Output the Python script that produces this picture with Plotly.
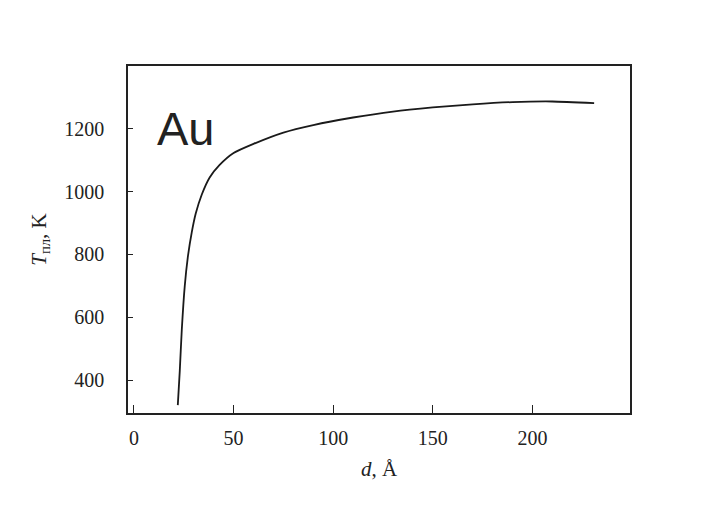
import plotly.graph_objects as go

# particle size d (Å) and melting temperature T_пл (K) for Au
d_vals = [22, 23, 24, 25.5, 27, 29, 31, 34, 38, 43, 50, 60, 75, 90, 110, 130, 150, 170, 190, 210, 231]
t_vals = [320, 430, 560, 700, 790, 870, 930, 990, 1045, 1085, 1123, 1152, 1188, 1212, 1236, 1255, 1268, 1278, 1285, 1287, 1282]

x_ticks = [0, 50, 100, 150, 200]
y_ticks = [400, 600, 800, 1000, 1200]

fig = go.Figure()
fig.add_trace(go.Scatter(
    x=d_vals, y=t_vals, mode="lines",
    line=dict(color="#1a1a1a", width=1.8, shape="spline", smoothing=0.6),
    showlegend=False, hoverinfo="skip",
))

serif = "Liberation Serif, Times New Roman, serif"

fig.update_layout(
    width=708, height=507,
    margin=dict(l=120, r=86, t=58, b=102),
    paper_bgcolor="#ffffff", plot_bgcolor="#ffffff",
    font=dict(family=serif, size=20, color="#222222"),
    annotations=[dict(
        text="Au", xref="paper", yref="paper", x=0.115, y=0.82,
        showarrow=False, xanchor="center", yanchor="middle",
        font=dict(family="Liberation Sans, Arial, sans-serif", size=47, color="#222222"),
    )],
)

fig.update_xaxes(
    range=[-3, 249], tickvals=x_ticks, ticktext=[str(v) for v in x_ticks],
    showgrid=False, zeroline=False,
    showline=True, linecolor="#222222", linewidth=1.5, mirror=True,
    ticks="inside", ticklen=8, tickwidth=1.3, tickcolor="#222222",
    ticklabelstandoff=6,
    title=dict(text="<i>d</i>, Å", font=dict(family=serif, size=21), standoff=14),
)
fig.update_yaxes(
    range=[295, 1400], tickvals=y_ticks, ticktext=[str(v) for v in y_ticks],
    showgrid=False, zeroline=False,
    showline=True, linecolor="#222222", linewidth=1.5, mirror=True,
    ticks="inside", ticklen=5, tickwidth=1.3, tickcolor="#222222",
    ticklabelstandoff=18,
    title=dict(text="<i>T</i><sub>пл</sub>, K", font=dict(family=serif, size=21), standoff=12),
)

fig.write_html("out.html")
